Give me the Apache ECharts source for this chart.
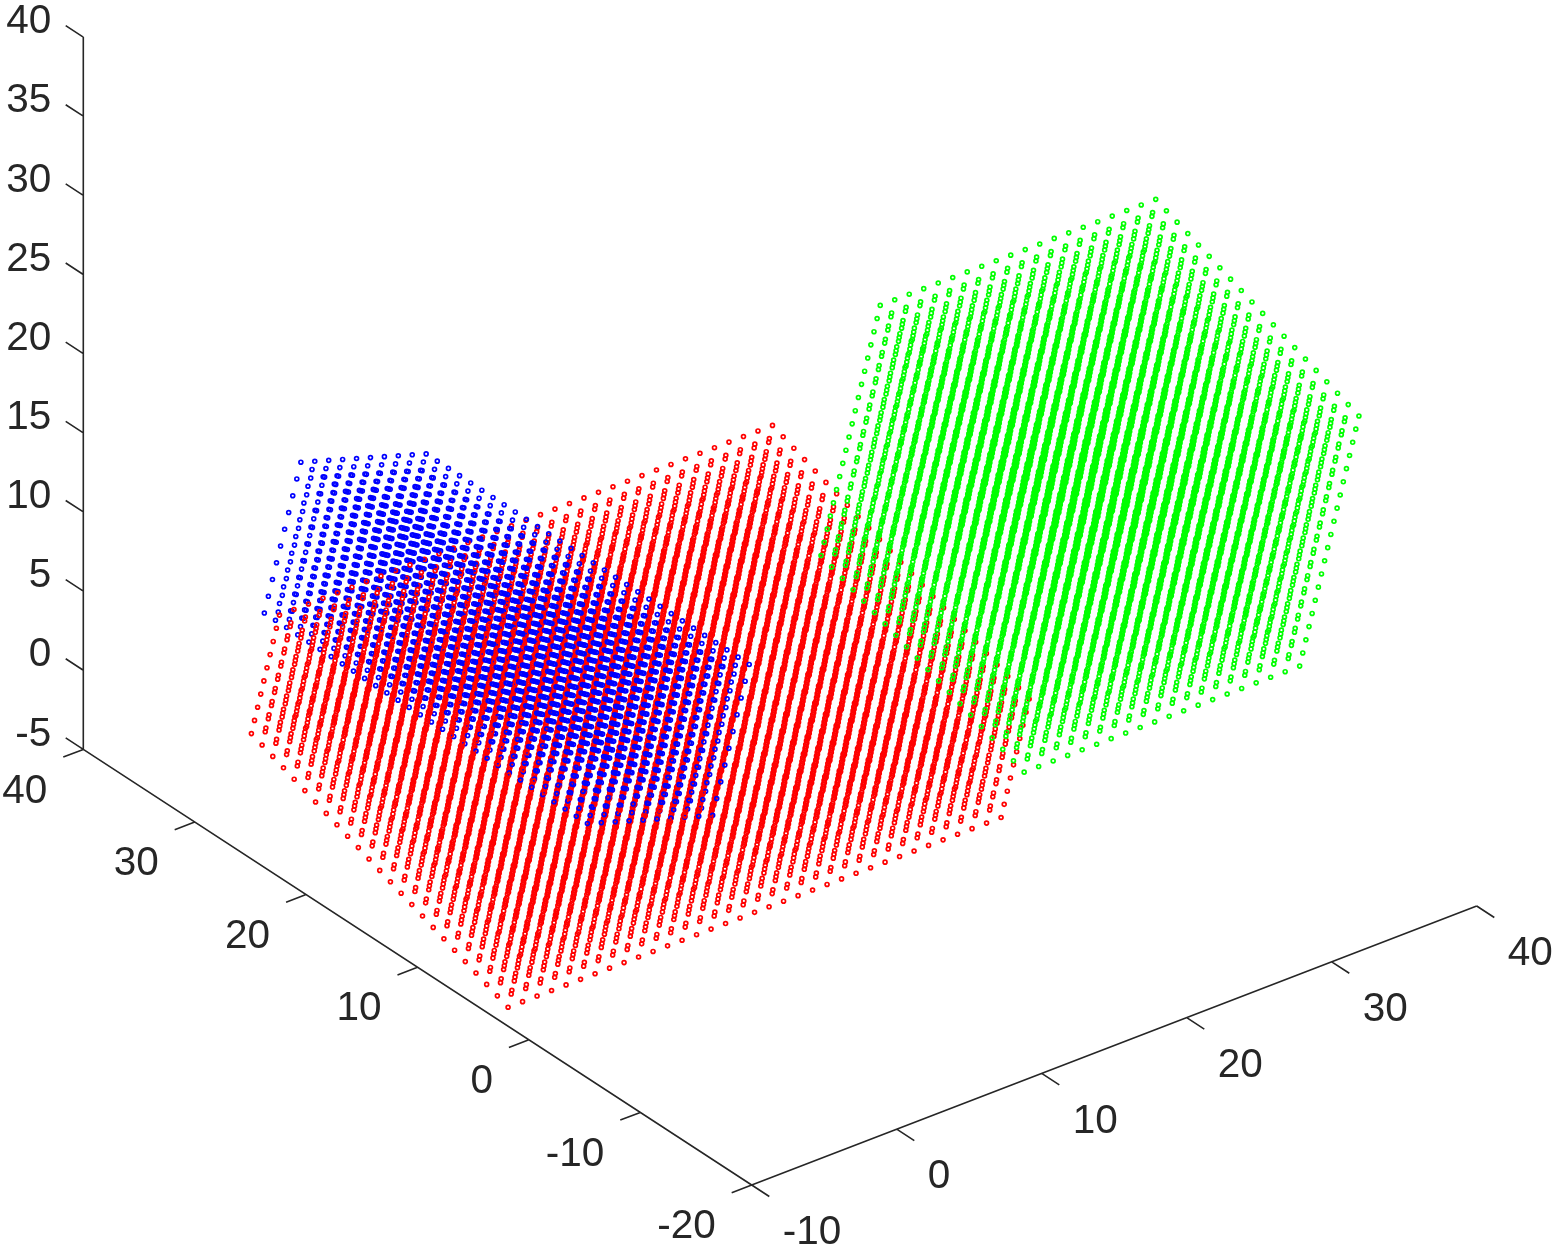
<!DOCTYPE html>
<html>
<head>
<meta charset="utf-8">
<style>html,body{margin:0;padding:0;background:#fff}#c{width:1554px;height:1248px}</style>
<script src="https://cdn.jsdelivr.net/npm/echarts@6/dist/echarts.min.js"></script>
</head>
<body>
<div id="c"></div>
<script>
// Axis ticks
const xTicks = [-10, 0, 10, 20, 30, 40];
const yTicks = [-20, -10, 0, 10, 20, 30, 40];
const zTicks = [-5, 0, 5, 10, 15, 20, 25, 30, 35, 40];

// Grid positions along each box edge, counted from the picture
const redA = [0,1,2,3,4,5,6,7,8,9,10,11,12,13,14,15,16,17,18,19,20,21,22,23,24,25,26,27,28,29,30,31,32,33,34];
const redB = [0,1,2,3,4,5,6,7,8,9,10,11,12,13,14,15,16,17,18,19,20,21,22,23,24];
const redC = [0,1,2,3,4,5,6,7,8,9];
const blueA = [0,1,2,3,4,5,6,7,8,9];
const blueB = [0,1,2,3,4,5,6,7,8,9,10,11,12,13,14,15,16,17,18,19,20,21,22,23,24,25,26,27,28,29];
const blueC = [0,1,2,3,4,5,6,7,8,9];
const greenA = [0,1,2,3,4,5,6,7,8,9,10,11,12,13,14,15,16,17,18,19];
const greenB = [0,1,2,3,4,5,6,7,8,9,10,11,12,13,14,15,16,17,18,19];
const greenC = [0,1,2,3,4,5,6,7,8,9,10,11,12,13,14,15,16,17,18,19];

// Box corners in data units
const redOrigin = [-10, 1.87, -3.8];
const blueOrigin = [-5.19, 1.01, 6.5];
const greenOrigin = [19.7, -5.8, 4.1];
// Tilt of the boxes: cos and sin of about 16 degrees
const tiltCos = 0.96, tiltSin = 0.28;

// Orthographic view
const corner = [751.7, 1185];               // screen position of x=-10, y=-20, z=-5
const ex = [14.5, -5.58], ey = [-11.14, -7.26], ez = [0, -15.83];
function project(x, y, z) {
  const dx = x + 10, dy = y + 20, dz = z + 5;
  return [corner[0] + dx*ex[0] + dy*ey[0] + dz*ez[0],
          corner[1] + dx*ex[1] + dy*ey[1] + dz*ez[1]];
}

const pts = [];
function addBox(A, B, C, o, ua, ub, uc, color) {
  for (const a of A) for (const b of B) for (const c of C) {
    const x = o[0] + a*ua[0] + b*ub[0] + c*uc[0];
    const y = o[1] + a*ua[1] + b*ub[1] + c*uc[1];
    const z = o[2] + a*ua[2] + b*ub[2] + c*uc[2];
    pts.push({ p: project(x, y, z), z, color });
  }
}
// red and green tilt about the x axis, blue about the y axis
addBox(redA, redB, redC, redOrigin, [1,0,0], [0,tiltCos,tiltSin], [0,-tiltSin,tiltCos], '#ff0000');
addBox(blueA, blueB, blueC, blueOrigin, [tiltCos,0,-tiltSin], [0,1,0], [tiltSin,0,tiltCos], '#0000ff');
addBox(greenA, greenB, greenC, greenOrigin, [1,0,0], [0,tiltCos,tiltSin], [0,-tiltSin,tiltCos], '#00ff00');
// Along any line of sight a larger z is nearer the viewer, so paint low z first
pts.sort((m, n) => m.z - n.z);

const GAP = ['-', '-'];
const axisLines = [];
function seg(a, b) { axisLines.push(a, b, GAP); }
const tickLenA = 1.38, tickLenB = 1.58;
seg(project(-10,-20,-5), project(40,-20,-5));
seg(project(-10,-20,-5), project(-10,40,-5));
seg(project(-10,40,-5), project(-10,40,40));
for (const t of xTicks) seg(project(t,-20,-5), project(t,-20-tickLenB,-5));
for (const t of yTicks) seg(project(-10,t,-5), project(-10-tickLenA,t,-5));
for (const t of zTicks) seg(project(-10,40,t), project(-10,40+tickLenB,t));

function labelSeries(ticks, fn, align, dx, dy) {
  return {
    type: 'scatter', silent: true, symbolSize: 0, animation: false,
    itemStyle: { opacity: 1 },
    data: ticks.map(t => ({ value: fn(t), name: String(t) })),
    label: {
      show: true, position: [0, 0], offset: [dx, dy], align, verticalAlign: 'middle',
      formatter: '{b}', fontFamily: '"Liberation Sans", Arial, sans-serif',
      fontSize: 40.5, color: '#262626', opacity: 1
    }
  };
}

const chart = echarts.init(document.getElementById('c'), null, { renderer: 'canvas' });
chart.setOption({
  animation: false,
  backgroundColor: '#ffffff',
  grid: { left: 0, right: 0, top: 0, bottom: 0 },
  xAxis: { type: 'value', min: 0, max: 1554, show: false },
  yAxis: { type: 'value', min: 0, max: 1248, inverse: true, show: false },
  series: [
    {
      type: 'scatter', silent: true, large: false, progressive: 0, animation: false,
      symbol: 'circle', symbolSize: 3.9,
      data: pts.map(q => ({ value: q.p, itemStyle: { opacity: 1, color: 'rgba(255,255,255,0)', borderColor: q.color, borderWidth: 1.7 } }))
    },
    {
      type: 'line', silent: true, symbol: 'none', animation: false, connectNulls: false,
      data: axisLines, lineStyle: { color: '#262626', width: 1.6 }
    },
    labelSeries(xTicks, t => project(t,-20,-5), 'left', 31, 48),
    labelSeries(yTicks, t => project(-10,t,-5), 'right', -36, 42),
    labelSeries(zTicks, t => project(-10,40,t), 'right', -32, -15)
  ]
});
</script>
</body>
</html>
